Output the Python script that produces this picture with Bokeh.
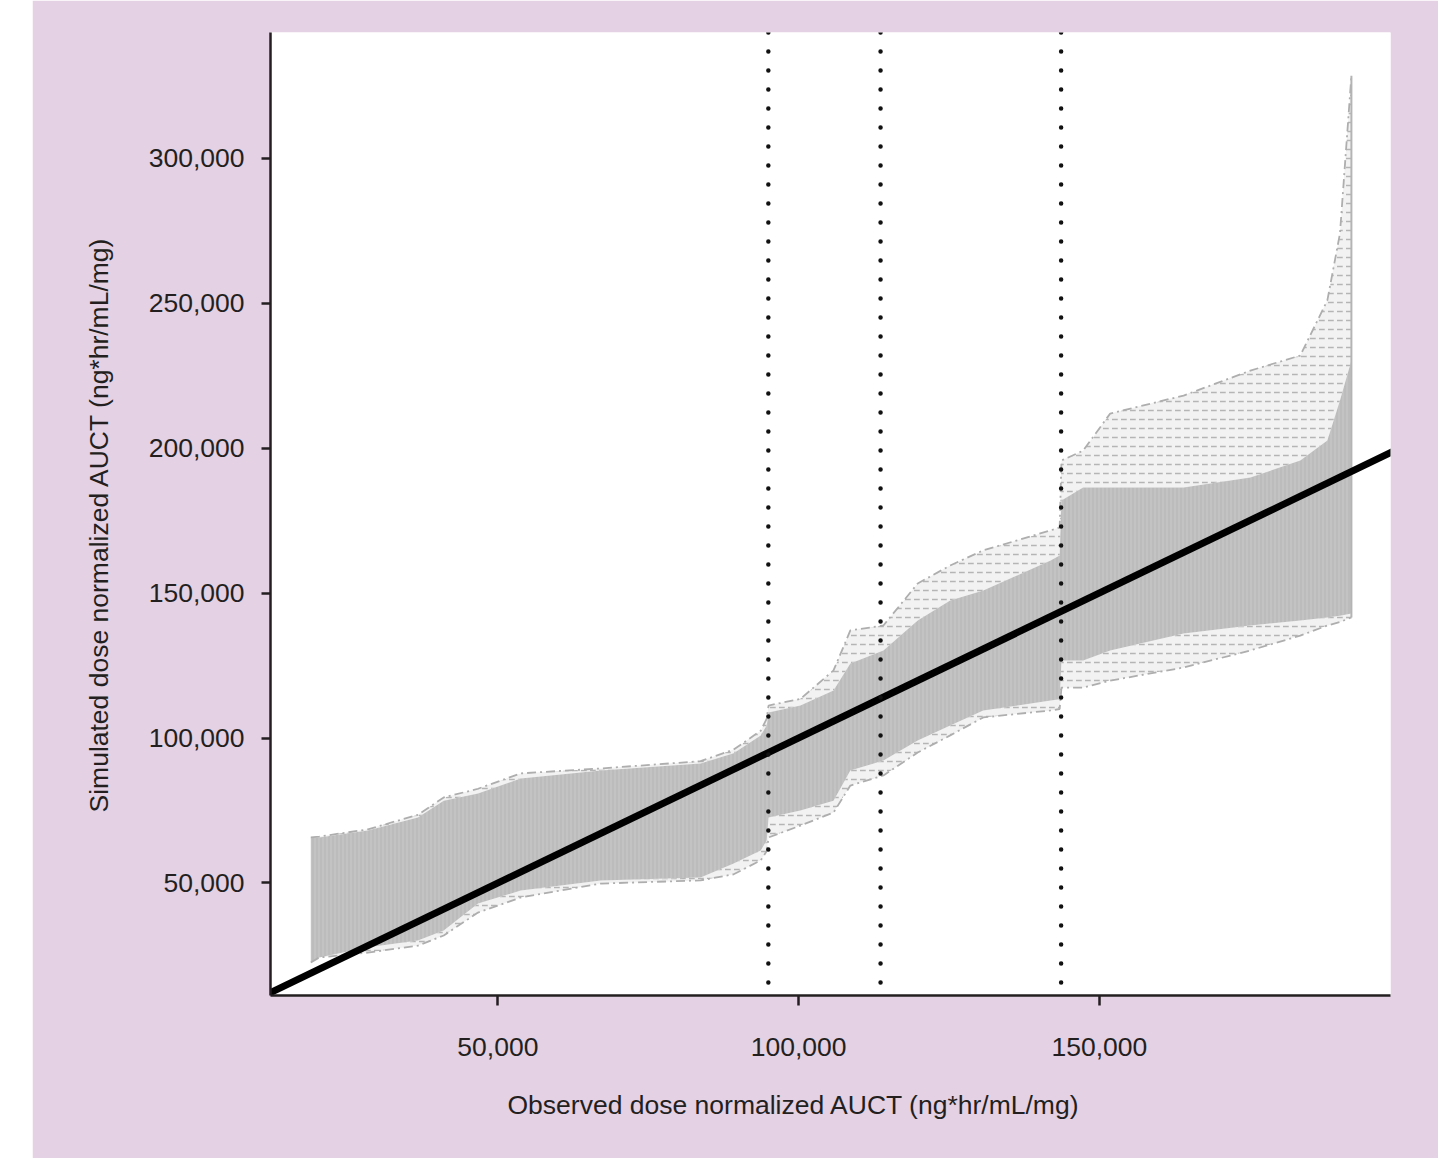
from bokeh.plotting import figure
from bokeh.models import Range1d, FixedTicker, NumeralTickFormatter, Span, Title, Spacer
from bokeh.layouts import row
from bokeh.embed import file_html
from bokeh.resources import INLINE

# Observed dose-normalized AUC (sorted, breakpoints)
obs_auc = [18900, 20300, 28400, 36700, 41000, 46700, 53800, 67100, 83700, 89200,
           93700, 94700, 95000, 100300, 105800, 108600, 114100, 119800, 125200, 130700,
           141900, 143400, 143700, 147300, 151800, 164000, 175100, 183400, 187900, 190000,
           191900]
# Simulated dose-normalized AUC envelopes of the many simulated replicates
sim_low_outer = [22600, 24300, 26000, 28400, 31900, 39800, 45000, 49800, 50900, 53000,
                 57800, 61000, 65700, 69800, 74300, 83600, 87100, 95000, 100900, 107100,
                 109500, 110000, 117400, 117400, 119800, 124300, 130200, 135300, 138800, 140000,
                 141600]
sim_low_band = [22600, 24300, 27800, 30200, 33600, 42900, 47400, 50900, 51900, 56700,
                61200, 64700, 72600, 75000, 78400, 88800, 92200, 99100, 104300, 109500,
                112900, 113400, 126700, 126700, 130200, 136000, 138800, 140500, 141600, 142200,
                142900]
sim_high_band = [65700, 65700, 68100, 72600, 78400, 80900, 86000, 88800, 91200, 94700,
                 100900, 104300, 108800, 111200, 116400, 125700, 130200, 140500, 147400, 150900,
                 161200, 162900, 181900, 186400, 186400, 186400, 189800, 195700, 202600, 216400,
                 230200]
sim_high_outer = [65700, 66000, 68500, 73500, 79500, 82500, 87800, 89500, 92000, 96000,
                  102500, 106700, 111200, 113500, 123300, 137100, 138800, 153300, 159500, 164700,
                  171600, 172600, 195700, 199100, 211900, 218100, 226700, 231900, 250900, 274000,
                  328400]
# Line of identity and observed-quartile cut points
identity = [10000, 200000]
cut_points = [94967, 113621, 143638]
x_ticks = [50000, 100000, 150000]
y_ticks = [50000, 100000, 150000, 200000, 250000, 300000]

PINK = "#E4D1E4"
INK = "#231F20"
FONT = "Liberation Sans"
BAND = "#BCBCBC"
LINEGRAY = "#AEAEAE"

p = figure(frame_width=1120, frame_height=963,
           min_border_left=238, min_border_right=48, min_border_top=32, min_border_bottom=163,
           x_range=Range1d(12200, 198400), y_range=Range1d(11200, 343300),
           output_backend="svg", toolbar_location=None)
p.border_fill_color = PINK
p.background_fill_color = "white"
p.outline_line_color = None
p.xgrid.visible = False
p.ygrid.visible = False

# outer (sparse) zone of simulated dash-dot lines
for lo, hi in ((sim_high_band, sim_high_outer), (sim_low_outer, sim_low_band)):
    p.varea(x=obs_auc, y1=lo, y2=hi, fill_color="#F2F2F2", fill_alpha=1.0,
            hatch_pattern='"', hatch_color=LINEGRAY, hatch_alpha=0.9, hatch_scale=9, hatch_weight=1.5)
# dense zone
p.varea(x=obs_auc, y1=sim_low_band, y2=sim_high_band, fill_color=BAND,
        hatch_pattern="|", hatch_color="white", hatch_alpha=0.22, hatch_scale=4, hatch_weight=1)
for ys in (sim_high_outer, sim_low_outer):
    p.line(obs_auc, ys, line_color=LINEGRAY, line_width=1.8, line_dash="9 4 2 4")
p.segment(x0=[obs_auc[-1]], y0=[sim_low_outer[-1]], x1=[obs_auc[-1]], y1=[sim_high_outer[-1]],
          line_color="#B4B4B4", line_width=2)

# identity line
p.line(identity, identity, line_color="black", line_width=7)

for c in cut_points:
    p.add_layout(Span(location=c, dimension="height", line_color="#111111", line_width=4.5,
                      line_dash="0 19", line_cap="round"))

for ax in (p.xaxis[0], p.yaxis[0]):
    ax.axis_line_color = INK
    ax.axis_line_width = 2.5
    ax.major_tick_line_color = INK
    ax.major_tick_line_width = 2.5
    ax.major_tick_in = 0
    ax.minor_tick_line_color = None
    ax.major_label_text_font = FONT
    ax.major_label_text_font_size = "26.5px"
    ax.major_label_text_color = INK
    ax.formatter = NumeralTickFormatter(format="0,0")

p.xaxis.ticker = FixedTicker(ticks=x_ticks)
p.yaxis.ticker = FixedTicker(ticks=y_ticks)
p.xaxis.major_tick_out = 10
p.yaxis.major_tick_out = 9
p.xaxis.major_label_standoff = 32
p.yaxis.major_label_standoff = 17

yt = Title(text="Simulated dose normalized AUCT (ng*hr/mL/mg)", align="left", offset=183,
           text_font=FONT, text_font_size="26.5px", text_font_style="normal",
           text_color=INK, standoff=64)
p.add_layout(yt, "left")

xt = Title(text="Observed dose normalized AUCT (ng*hr/mL/mg)", align="left", offset=237,
           text_font=FONT, text_font_size="26.5px", text_font_style="normal",
           text_color=INK, standoff=58)
p.add_layout(xt, "below")

layout = row(Spacer(width=32, height=1158), p)
open("out.html", "w").write(file_html(layout, INLINE))
